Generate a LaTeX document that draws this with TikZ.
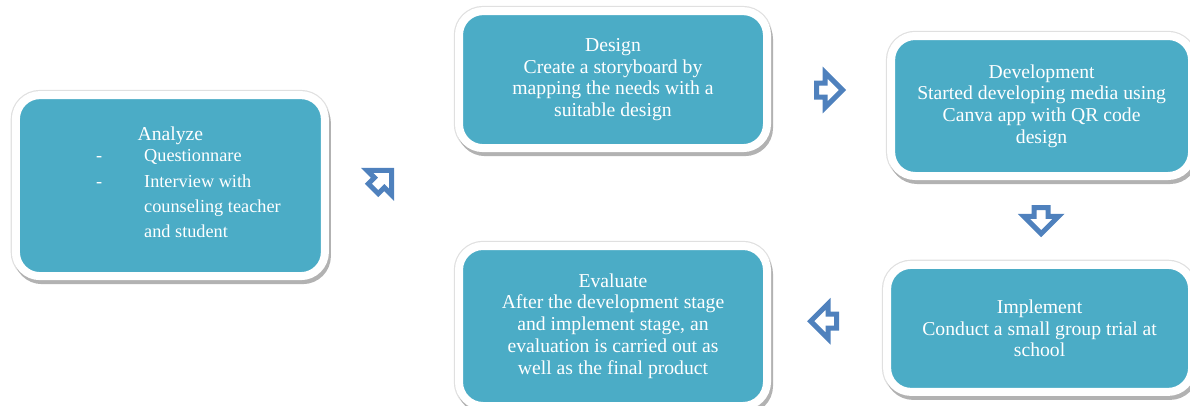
\documentclass[tikz,border=0pt]{standalone}
\usepackage{fontspec}
\setmainfont{Liberation Serif}
\usepackage{tikz}
\usetikzlibrary{shapes.arrows, positioning}

\definecolor{boxteal}{RGB}{75,172,198}
\definecolor{arrowblue}{RGB}{79,129,189}

\tikzset{
  stage/.style={rectangle, rounded corners=0.6cm, fill=boxteal, draw=white,
    line width=0.2cm, text=white, align=center, inner sep=0pt,
    font=\fontsize{14}{15.5}\selectfont,
    preaction={draw=black!12, line width=0.26cm},
    preaction={fill=black!30, draw=black!30, line width=0.2cm,
      transform canvas={xshift=0.05cm, yshift=-0.1cm}}},
  flowarrow/.style={single arrow, draw=arrowblue, fill=white,
    line width=0.125cm, minimum height=0.65cm, minimum width=0pt,
    inner xsep=0pt, inner ysep=0.1125cm, single arrow head extend=0.26cm}
}

\begin{document}
\begin{tikzpicture}
        \useasboundingbox (0,0) rectangle (29.75,-10.125);
        % Stages
        \node[stage, minimum width=7.725cm, minimum height=4.525cm] (analyze) at (4.26,-4.64)
          {Analyze\\ \fontsize{13}{15.5}\selectfont\def\arraystretch{1.15}\hspace*{0.9cm}\begin{tabular}[t]{@{}l@{\hspace{1.05cm}}l@{}}
            -& Questionnare\\
            -& Interview with\\
             & counseling teacher\\
             & and student
          \end{tabular}};
        \node[stage, minimum width=7.7cm, minimum height=3.425cm] (design) at (15.325,-1.99)
          {Design\\ Create a storyboard by\\ mapping the needs with a\\ suitable design};
        \node[stage, minimum width=7.525cm, minimum height=3.5cm] (develop) at (26.04,-2.65)
          {Development\\ Started developing media using\\ Canva app with QR code\\ design};
        \node[stage, minimum width=7.625cm, minimum height=3.175cm] (implement) at (25.99,-8.21)
          {Implement\\ Conduct a small group trial at\\ school};
        \node[stage, minimum width=7.7cm, minimum height=4cm] (evaluate) at (15.325,-8.15)
          {Evaluate\\ After the development stage\\ and implement stage, an\\ evaluation is carried out as\\ well as the final product};
        % Arrows
        \node[flowarrow, rotate=45] (toDesign) at (9.5,-4.55) {};
        \node[flowarrow] (toDevelop) at (20.65,-2.25) {};
        \node[flowarrow, rotate=-90] (toImplement) at (26.03,-5.43) {};
        \node[flowarrow, rotate=180] (toEvaluate) at (20.68,-8.03) {};
\end{tikzpicture}
\end{document}
